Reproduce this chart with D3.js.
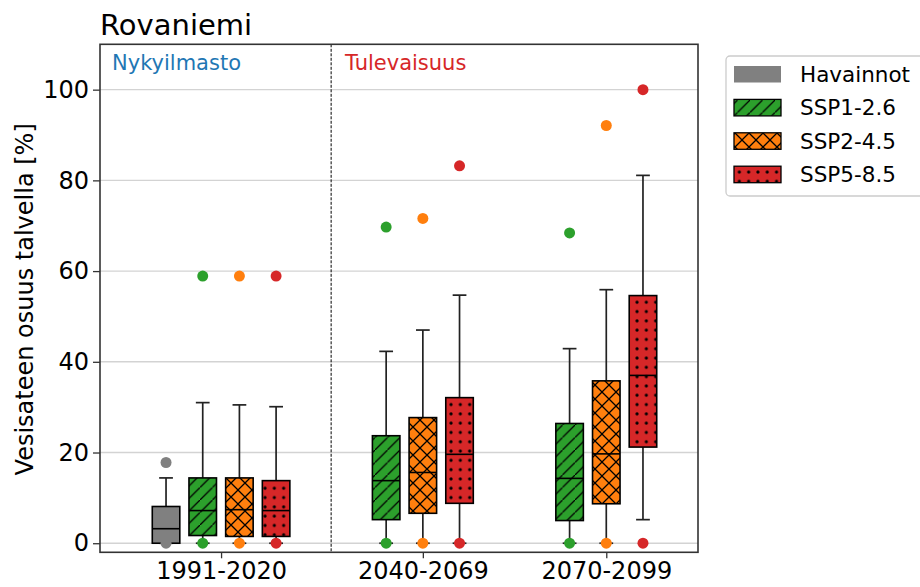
<!DOCTYPE html>
<html>
<meta charset="utf-8">
<style>
  body { margin: 0; padding: 0; background: #fff; }
  text { font-family: "DejaVu Sans", sans-serif; fill: #000; }
</style>
<body>
<div id="chart"></div>
<script src="https://d3js.org/d3.v7.min.js"></script>
<script>

// periods on the x axis
var periods = ["1991-2020", "2040-2069", "2070-2099"];
var seriesNames = ["Havainnot", "SSP1-2.6", "SSP2-4.5", "SSP5-8.5"];
var yTicks = [0, 20, 40, 60, 80, 100];

// box stats per period: [whisker low, q1, median, q3, whisker high]  (null = no box)
var havainnot = [[0, 0, 3.2, 8.1, 14.4], null, null];
var ssp126 = [[0, 1.7, 7.2, 14.4, 31.0], [0, 5.2, 13.8, 23.7, 42.3], [0, 5.0, 14.3, 26.4, 42.9]];
var ssp245 = [[0, 1.5, 7.4, 14.4, 30.5], [0, 6.6, 15.6, 27.7, 47.0], [0, 8.7, 19.7, 35.8, 55.9]];
var ssp585 = [[0, 1.5, 7.2, 13.8, 30.1], [0, 8.8, 19.6, 32.1, 54.7], [5.2, 21.2, 37.0, 54.6, 81.1]];

// min / max points per period
var havainnotMin = [0, null, null];
var havainnotMax = [17.8, null, null];
var ssp126Min = [0, 0, 0];
var ssp126Max = [58.9, 69.7, 68.4];
var ssp245Min = [0, 0, 0];
var ssp245Max = [58.9, 71.6, 92.1];
var ssp585Min = [0, 0, 0];
var ssp585Max = [58.9, 83.2, 100];

var series = [
  {name: seriesNames[0], stats: havainnot, min: havainnotMin, max: havainnotMax, color: "#808080", hatch: null},
  {name: seriesNames[1], stats: ssp126, min: ssp126Min, max: ssp126Max, color: "#2ca02c", hatch: "diag"},
  {name: seriesNames[2], stats: ssp245, min: ssp245Min, max: ssp245Max, color: "#ff7f0e", hatch: "cross"},
  {name: seriesNames[3], stats: ssp585, min: ssp585Min, max: ssp585Max, color: "#d62728", hatch: "dots"}
];

var W = 920, H = 587;
var plot = {left: 100, right: 698, top: 44.3, bottom: 552.3};

var svg = d3.select("#chart").append("svg")
  .attr("width", W).attr("height", H);

// hatch patterns
var defs = svg.append("defs");
series.forEach(function(s) {
  if (!s.hatch) return;
  var p, size;
  if (s.hatch == "diag") {
    size = 12.5;
    p = defs.append("pattern").attr("id", "h-" + s.hatch)
      .attr("patternUnits", "userSpaceOnUse").attr("width", size).attr("height", size);
    p.append("rect").attr("width", size).attr("height", size).attr("fill", s.color);
    p.append("path").attr("d", "M-1," + (size + 1) + " L" + (size + 1) + ",-1 M-3,1 L1,-3 M" + (size - 1) + "," + (size + 3) + " L" + (size + 3) + "," + (size - 1))
      .attr("stroke", "#000").attr("stroke-width", 1.3);
  } else if (s.hatch == "cross") {
    size = 14;
    p = defs.append("pattern").attr("id", "h-" + s.hatch)
      .attr("patternUnits", "userSpaceOnUse").attr("width", size).attr("height", size);
    p.append("rect").attr("width", size).attr("height", size).attr("fill", s.color);
    p.append("path").attr("d", "M0,0 L" + size + "," + size + " M0," + size + " L" + size + ",0")
      .attr("stroke", "#000").attr("stroke-width", 1.3);
  } else {
    size = 9.3;
    p = defs.append("pattern").attr("id", "h-" + s.hatch)
      .attr("patternUnits", "userSpaceOnUse").attr("width", size).attr("height", size);
    p.append("rect").attr("width", size).attr("height", size).attr("fill", s.color);
    p.append("circle").attr("cx", size / 2).attr("cy", size / 2).attr("r", 1.6).attr("fill", "#000");
  }
});
function fillOf(s) { return s.hatch ? "url(#h-" + s.hatch + ")" : s.color; }

// scales
var x = d3.scaleLinear().domain([0.44, 3.70]).range([plot.left, plot.right]);
var y = d3.scaleLinear().domain([-2, 110]).range([plot.bottom, plot.top]);

// box position: period index + 1, series offset 0.2 each (Havainnot sits left of SSP1)
function boxPos(pi, si) { return pi + 1 + (si - 1) * 0.2; }
var boxW = 0.15;

// tick position per period = mean of the boxes it holds
var tickPos = periods.map(function(p, pi) {
  var ps = [];
  series.forEach(function(s, si) { if (s.stats[pi]) ps.push(boxPos(pi, si)); });
  return d3.mean(ps);
});

// grid
svg.append("g").selectAll("line").data(yTicks).enter().append("line")
  .attr("x1", plot.left).attr("x2", plot.right)
  .attr("y1", function(d) { return y(d); }).attr("y2", function(d) { return y(d); })
  .attr("stroke", "#d3d3d3").attr("stroke-width", 1.4);

// separator between present and future
var sep = (boxPos(0, 3) + boxPos(1, 1)) / 2;
svg.append("line")
  .attr("x1", x(sep)).attr("x2", x(sep)).attr("y1", plot.top).attr("y2", plot.bottom)
  .attr("stroke", "#000").attr("stroke-width", 1).attr("stroke-dasharray", "3,1.5");

// boxes
series.forEach(function(s, si) {
  var g = svg.append("g");
  s.stats.forEach(function(st, pi) {
    if (!st) return;
    var cx = x(boxPos(pi, si));
    var half = (x(boxW) - x(0)) / 2;
    var cap = half / 2;
    // whiskers
    g.append("line").attr("x1", cx).attr("x2", cx).attr("y1", y(st[0])).attr("y2", y(st[1]))
      .attr("stroke", "#222").attr("stroke-width", 1.7);
    g.append("line").attr("x1", cx).attr("x2", cx).attr("y1", y(st[3])).attr("y2", y(st[4]))
      .attr("stroke", "#222").attr("stroke-width", 1.7);
    [st[0], st[4]].forEach(function(v) {
      g.append("line").attr("x1", cx - cap).attr("x2", cx + cap).attr("y1", y(v)).attr("y2", y(v))
        .attr("stroke", "#222").attr("stroke-width", 1.7);
    });
    // box
    g.append("rect").attr("x", cx - half).attr("width", 2 * half)
      .attr("y", y(st[3])).attr("height", y(st[1]) - y(st[3]))
      .attr("fill", fillOf(s)).attr("stroke", "#000").attr("stroke-width", 1.6);
    g.append("line").attr("x1", cx - half).attr("x2", cx + half).attr("y1", y(st[2])).attr("y2", y(st[2]))
      .attr("stroke", "#000").attr("stroke-width", 1.6);
    // min and max points
    [s.min[pi], s.max[pi]].forEach(function(v) {
      if (v == null) return;
      g.append("circle").attr("cx", cx).attr("cy", y(v)).attr("r", 5.5).attr("fill", s.color);
    });
  });
});

// frame
svg.append("rect").attr("x", plot.left).attr("y", plot.top)
  .attr("width", plot.right - plot.left).attr("height", plot.bottom - plot.top)
  .attr("fill", "none").attr("stroke", "#333").attr("stroke-width", 1.6);

// y axis
var yAxis = svg.append("g").attr("transform", "translate(" + plot.left + ",0)")
  .call(d3.axisLeft(y).tickValues(yTicks).tickSize(7).tickPadding(4));
yAxis.select(".domain").remove();
yAxis.selectAll(".tick line").attr("stroke", "#333").attr("stroke-width", 1.3);
yAxis.selectAll(".tick text").style("font-size", "24px").style("font-family", "DejaVu Sans").attr("fill", "#000");

// x axis
var xAxis = svg.append("g").attr("transform", "translate(0," + plot.bottom + ")")
  .call(d3.axisBottom(x).tickValues(tickPos).tickSize(6).tickPadding(4)
    .tickFormat(function(d, i) { return periods[i]; }));
xAxis.select(".domain").remove();
xAxis.selectAll(".tick line").attr("stroke", "#333").attr("stroke-width", 1.3);
xAxis.selectAll(".tick text").style("font-size", "24px").style("font-family", "DejaVu Sans").attr("fill", "#000");

// titles
svg.append("text").attr("x", plot.left).attr("y", 35).style("font-size", "29px").text("Rovaniemi");
svg.append("text").attr("transform", "translate(33," + ((plot.top + plot.bottom) / 2 + 1) + ") rotate(-90)")
  .attr("text-anchor", "middle").style("font-size", "24px").text("Vesisateen osuus talvella [%]");
svg.append("text").attr("x", 112).attr("y", 70).style("font-size", "21px").style("fill", "#1f77b4").text("Nykyilmasto");
svg.append("text").attr("x", 345).attr("y", 70).style("font-size", "21px").style("fill", "#d62728").text("Tulevaisuus");

// legend
var lg = svg.append("g");
lg.append("rect").attr("x", 726).attr("y", 56).attr("width", 210).attr("height", 140).attr("rx", 4)
  .attr("fill", "#fff").attr("stroke", "#cccccc").attr("stroke-width", 1.3);
series.forEach(function(s, i) {
  var yy = 66 + i * 33.4;
  lg.append("rect").attr("x", 734).attr("y", yy).attr("width", 47).attr("height", 16.5)
    .attr("fill", fillOf(s)).attr("stroke", s.hatch ? "#000" : "none").attr("stroke-width", 1.3);
  lg.append("text").attr("x", 800).attr("y", yy + 15.7).style("font-size", "21.5px").text(s.name);
});

</script>
</body>
</html>
